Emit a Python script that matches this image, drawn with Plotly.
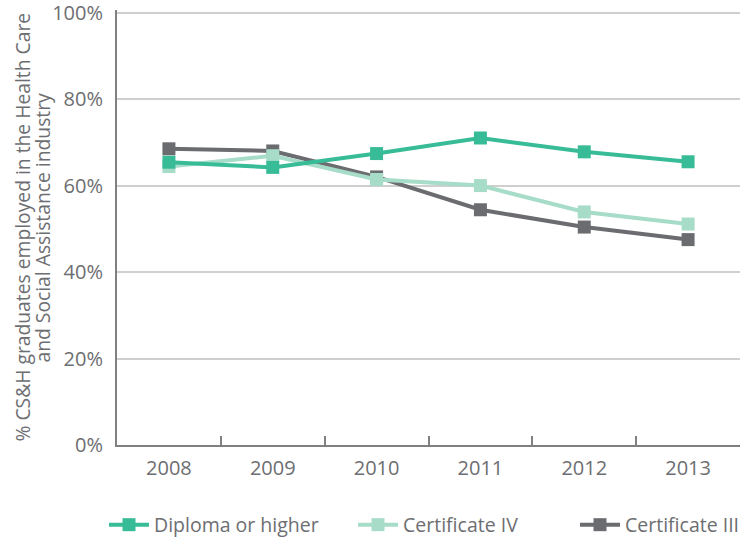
import plotly.graph_objects as go

years = ["2008", "2009", "2010", "2011", "2012", "2013"]
diploma_or_higher = [65.4, 64.2, 67.4, 71.0, 67.8, 65.5]
certificate_iv = [64.4, 66.9, 61.4, 60.0, 53.9, 51.1]
certificate_iii = [68.5, 68.0, 62.0, 54.4, 50.4, 47.5]

y_ticks = [0, 20, 40, 60, 80, 100]
y_tick_labels = ["0%", "20%", "40%", "60%", "80%", "100%"]
y_title_lines = [
    "% CS&H graduates employed in the Health Care",
    "and Social Assistance industry",
]

TEXT = "#6d6e71"
FONT = "Open Sans"
W, H = 743, 537

# drawn bottom-up so the diploma line sits on top
series = [
    ("Certificate III", certificate_iii, "#6b6c70", "legend3"),
    ("Certificate IV", certificate_iv, "#a6dcc8", "legend2"),
    ("Diploma or higher", diploma_or_higher, "#38bc98", "legend"),
]

fig = go.Figure()
for name, vals, color, leg in series:
    fig.add_trace(go.Scatter(
        x=years, y=vals, name=name, mode="lines+markers",
        line=dict(color=color, width=4),
        marker=dict(symbol="square", size=13, color=color),
        legend=leg, showlegend=True,
    ))

legend_common = dict(
    orientation="h", xref="container", yref="container",
    yanchor="middle", y=(H - 525) / H, xanchor="left",
    font=dict(family=FONT, size=19.5, color=TEXT),
    bgcolor="rgba(0,0,0,0)", itemwidth=40, visible=True,
)

# two-line rotated axis title, one annotation per line
for i, line in enumerate(y_title_lines):
    fig.add_annotation(
        text=line, textangle=-90, showarrow=False,
        xref="paper", yref="paper", x=(22 + 20 * i - 117) / 623,
        y=0.5, xanchor="center", yanchor="middle",
        font=dict(family=FONT, size=19.3, color=TEXT),
    )

fig.update_layout(
    width=W, height=H,
    margin=dict(l=117, r=3, t=10, b=92, autoexpand=False),
    paper_bgcolor="white", plot_bgcolor="white",
    font=dict(family=FONT, color=TEXT),
    showlegend=True,
    legend=dict(x=104 / W, **legend_common),
    legend2=dict(x=353 / W, **legend_common),
    legend3=dict(x=575 / W, **legend_common),
    xaxis=dict(
        type="category", range=[-0.5, 5.5], automargin=False,
        showline=True, linecolor="#808080", linewidth=2,
        ticks="inside", tickson="boundaries", ticklen=9,
        tickcolor="#808080", tickwidth=2,
        showgrid=False, ticklabelstandoff=4,
        tickfont=dict(family=FONT, size=20, color=TEXT),
    ),
    yaxis=dict(
        range=[0, 100.6], tickvals=y_ticks, ticktext=y_tick_labels,
        automargin=False,
        showline=True, linecolor="#808080", linewidth=2,
        showgrid=True, gridcolor="#cfcfcf", gridwidth=1.5,
        zeroline=False, ticks="", ticklabelstandoff=8,
        ticklabeloverflow="allow",
        tickfont=dict(family=FONT, size=20, color=TEXT),
    ),
)

fig.write_html("out.html")
